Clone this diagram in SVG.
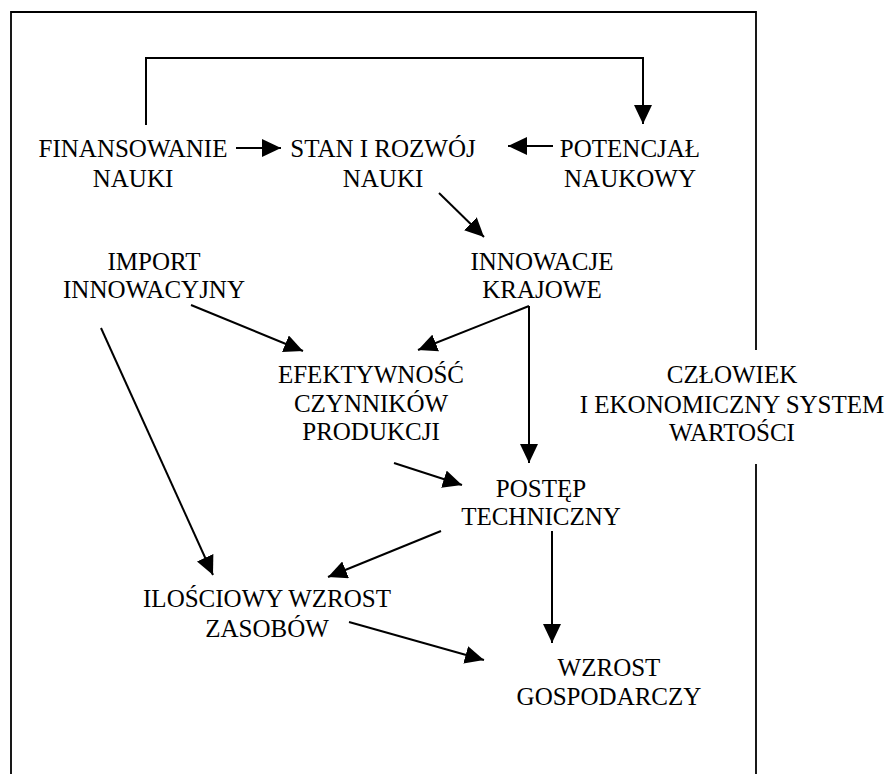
<svg xmlns="http://www.w3.org/2000/svg" width="889" height="774" viewBox="0 0 889 774">
<style>
text{font-family:"Liberation Serif","Times New Roman",serif;font-size:25px;fill:#000;text-anchor:middle}
.c{fill:none;stroke:#000;stroke-width:2}
.f{fill:none;stroke:#000;stroke-width:1.8}
</style>
<defs>
<marker id="a" viewBox="0 0 19 18" refX="19" refY="9" markerWidth="19" markerHeight="18" markerUnits="userSpaceOnUse" orient="auto">
<path d="M0,0 L19,9 L0,18 z" fill="#000"/>
</marker>
</defs>
<rect width="889" height="774" fill="#fff"/>
<g id="frame">
<path class="f" d="M11,774 V12 H756 V350"/>
<path class="f" d="M756,464 V774"/>
</g>
<g id="connectors">
<path class="c" d="M146,125 V58 H643 V124" marker-end="url(#a)"/>
<path class="c" d="M236,148 H281" marker-end="url(#a)"/>
<path class="c" d="M553,146 H508" marker-end="url(#a)"/>
<path class="c" d="M439,193 L484,237" marker-end="url(#a)"/>
<path class="c" d="M191,305 L303,351" marker-end="url(#a)"/>
<path class="c" d="M529,306 L418,350" marker-end="url(#a)"/>
<path class="c" d="M529,306 V463" marker-end="url(#a)"/>
<path class="c" d="M101,328 L213,575" marker-end="url(#a)"/>
<path class="c" d="M394,463 L462,485" marker-end="url(#a)"/>
<path class="c" d="M441,531 L328,577" marker-end="url(#a)"/>
<path class="c" d="M552,531 V643" marker-end="url(#a)"/>
<path class="c" d="M349,622 L484,660" marker-end="url(#a)"/>
</g>
<g id="finansowanie"><text x="133" y="157">FINANSOWANIE</text><text x="133" y="187">NAUKI</text></g>
<g id="stan"><text x="383" y="157">STAN I ROZWÓJ</text><text x="383" y="187">NAUKI</text></g>
<g id="potencjal"><text x="630" y="157">POTENCJAŁ</text><text x="630" y="187">NAUKOWY</text></g>
<g id="import"><text x="154" y="270">IMPORT</text><text x="154" y="298">INNOWACYJNY</text></g>
<g id="innowacje"><text x="542" y="270">INNOWACJE</text><text x="542" y="298">KRAJOWE</text></g>
<g id="efektywnosc"><text x="371" y="383">EFEKTYWNOŚĆ</text><text x="371" y="411.5">CZYNNIKÓW</text><text x="371" y="440">PRODUKCJI</text></g>
<g id="czlowiek"><text x="732" y="383">CZŁOWIEK</text><text x="732" y="412.5">I EKONOMICZNY SYSTEM</text><text x="732" y="441">WARTOŚCI</text></g>
<g id="postep"><text x="541" y="497">POSTĘP</text><text x="541" y="525">TECHNICZNY</text></g>
<g id="ilosciowy"><text x="267" y="607">ILOŚCIOWY WZROST</text><text x="267" y="637">ZASOBÓW</text></g>
<g id="wzrost"><text x="609" y="676">WZROST</text><text x="609" y="705">GOSPODARCZY</text></g>
</svg>
